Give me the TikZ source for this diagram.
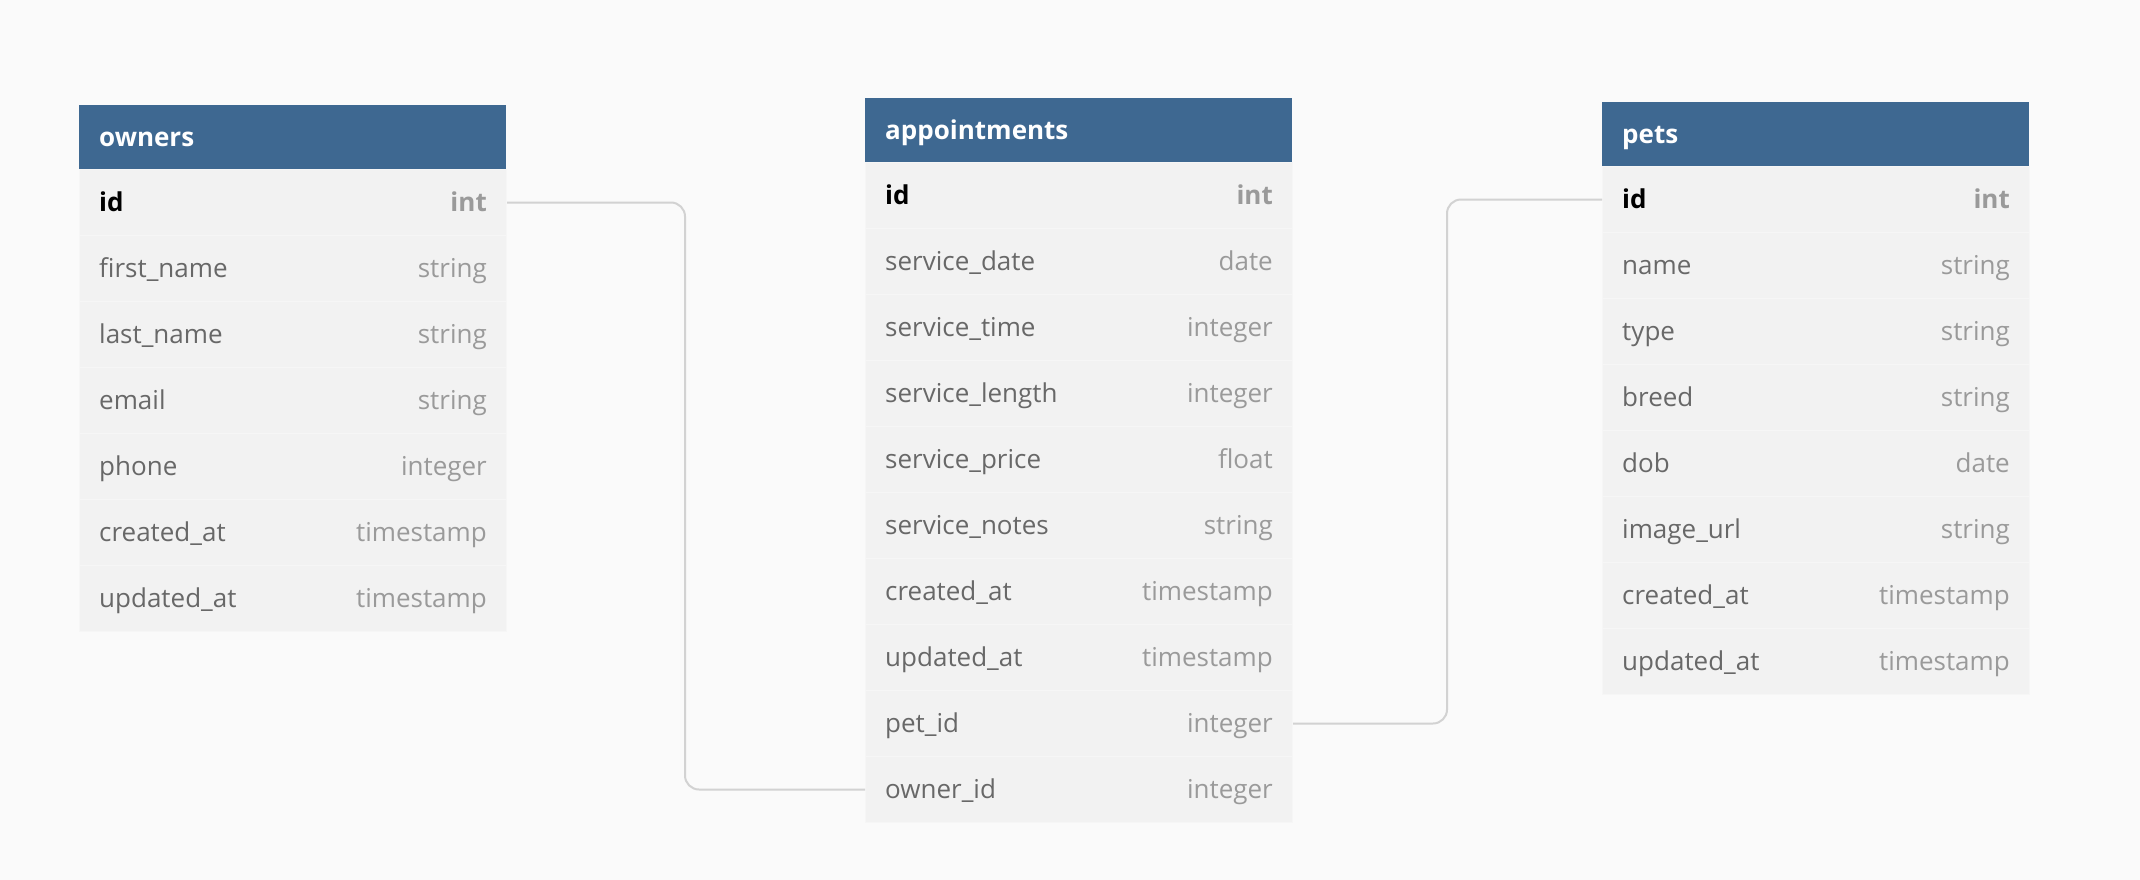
\documentclass[tikz,border=0pt]{standalone}
\usepackage{fontspec}
\setmainfont{Open Sans}
\usepackage{tikz}
\definecolor{hdblue}{HTML}{3E6891}
\definecolor{rowgray}{HTML}{F2F2F2}
\definecolor{rowsep}{HTML}{F6F6F6}
\definecolor{bggray}{HTML}{FAFAFA}
\definecolor{fieldgray}{HTML}{686868}
\definecolor{typegray}{HTML}{9A9A9A}
\definecolor{linkgray}{HTML}{D2D2D2}
\newcommand{\keyname}[1]{\textbf{\color{black}#1}}
\newcommand{\keytype}[1]{\textbf{#1}}

\tikzset{
  tblhead/.style={fill=hdblue, minimum width=427pt, minimum height=64pt, inner sep=0pt, anchor=north west},
  tblrow/.style={fill=rowgray, draw=rowsep, line width=1pt, minimum width=427pt, minimum height=66pt, inner sep=0pt, anchor=north west},
  headtext/.style={font=\fontsize{26}{30}\selectfont\bfseries, text=white, inner sep=0pt, text height=18pt, text depth=0pt, anchor=west},
  nametext/.style={font=\fontsize{26}{30}\selectfont, text=fieldgray, inner sep=0pt, text height=18pt, text depth=0pt, anchor=west},
  typetext/.style={font=\fontsize{26}{30}\selectfont, text=typegray, inner sep=0pt, text height=18pt, text depth=0pt, anchor=east},
  link/.style={draw=linkgray, line width=2pt, rounded corners=14pt}
}

\begin{document}
\begin{tikzpicture}[x=1pt, y=-1pt]
        \fill[bggray] (0,0) rectangle (2140,880);
        \useasboundingbox (0,0) rectangle (2140,880);
        % owners
        \node[tblhead] (owners) at (79,105) {};
        \node[headtext] (owners-title) at ([xshift=20pt]owners.west) {owners};
        \foreach \fname/\ftype [count=\i] in {%
            \keyname{id}/\keytype{int}, first\_name/string, last\_name/string,
            email/string, phone/integer, created\_at/timestamp, updated\_at/timestamp}
        {
            \node[tblrow] (owners-\i) at (79,{169+(\i-1)*66}) {};
            \node[nametext] (owners-\i-n) at ([xshift=20pt]owners-\i.west) {\fname};
            \node[typetext] (owners-\i-t) at ([xshift=-20pt]owners-\i.east) {\ftype};
        }
        % appointments
        \node[tblhead] (appts) at (865,98) {};
        \node[headtext] (appts-title) at ([xshift=20pt]appts.west) {appointments};
        \foreach \fname/\ftype [count=\i] in {%
            \keyname{id}/\keytype{int}, service\_date/date, service\_time/integer,
            service\_length/integer, service\_price/float, service\_notes/string,
            created\_at/timestamp, updated\_at/timestamp, pet\_id/integer, owner\_id/integer}
        {
            \node[tblrow] (appts-\i) at (865,{162+(\i-1)*66}) {};
            \node[nametext] (appts-\i-n) at ([xshift=20pt]appts-\i.west) {\fname};
            \node[typetext] (appts-\i-t) at ([xshift=-20pt]appts-\i.east) {\ftype};
        }
        % pets
        \node[tblhead] (pets) at (1602,102) {};
        \node[headtext] (pets-title) at ([xshift=20pt]pets.west) {pets};
        \foreach \fname/\ftype [count=\i] in {%
            \keyname{id}/\keytype{int}, name/string, type/string, breed/string,
            dob/date, image\_url/string, created\_at/timestamp, updated\_at/timestamp}
        {
            \node[tblrow] (pets-\i) at (1602,{166+(\i-1)*66}) {};
            \node[nametext] (pets-\i-n) at ([xshift=20pt]pets-\i.west) {\fname};
            \node[typetext] (pets-\i-t) at ([xshift=-20pt]pets-\i.east) {\ftype};
        }
        \coordinate (bendL) at (685,0);
        \coordinate (bendR) at (1447,0);
        \draw[link] (owners-1.east) -- (owners-1.east -| bendL) |- (appts-10.west);
        \draw[link] (appts-9.east) -- (appts-9.east -| bendR) |- (pets-1.west);
    \end{tikzpicture}
\end{document}
